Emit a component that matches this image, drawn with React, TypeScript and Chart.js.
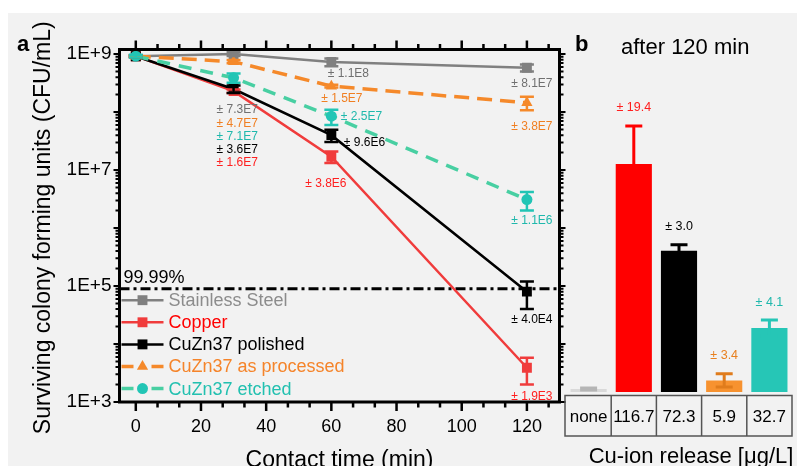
import React, { useEffect, useRef } from 'react';
import { Chart, registerables } from 'chart.js';

Chart.register(...registerables);

const FONT = '"Liberation Sans", Arial, Helvetica, sans-serif';

// ---------- panel a : survival curves ----------
const contactTimes = [0, 30, 60, 120];
const seriesNames = ['Stainless Steel', 'Copper', 'CuZn37 polished', 'CuZn37 as processed', 'CuZn37 etched'];
const stainlessSteel = [9.2e8, 1.0e9, 7.3e8, 5.8e8];
const stainlessSteelErr = [3e7, 7.3e7, 1.1e8, 8.1e7];
const copper = [9.2e8, 2.3e8, 1.7e7, 3.9e3];
const copperErr = [3e7, 1.6e7, 3.8e6, 1.9e3];
const polished = [9.2e8, 2.5e8, 4.0e7, 8.0e4];
const polishedErr = [3e7, 3.6e7, 9.6e6, 4.0e4];
const asProcessed = [9.2e8, 7.4e8, 2.8e8, 1.45e8];
const asProcessedErr = [3e7, 4.7e7, 1.5e7, 3.8e7];
const etched = [9.2e8, 3.9e8, 8.5e7, 3.1e6];
const etchedErr = [5e7, 7.1e7, 2.5e7, 1.1e6];
const thresholdValue = 9e4;
const thresholdLabel = '99.99%';
const xTickValues = [0, 20, 40, 60, 80, 100, 120];
const yTickValues = [1e3, 1e5, 1e7, 1e9];
const xTitle = 'Contact time (min)';
const yTitle = 'Surviving colony forming units (CFU/mL)';

// ---------- panel b : Cu-ion release ----------
const releaseLabels = ['none', '116.7', '72.3', '5.9', '32.7'];
const releaseValues = [1.5, 116.7, 72.3, 5.9, 32.7];
const releaseErr = [0.5, 19.4, 3.0, 3.4, 4.1];
const releaseTitle = 'Cu-ion release [μg/L]';
const panelBTitle = 'after 120 min';

// ---------- styles ----------
const seriesValues = [stainlessSteel, copper, polished, asProcessed, etched];
const seriesErrs = [stainlessSteelErr, copperErr, polishedErr, asProcessedErr, etchedErr];
const lineColors = ['#808080', '#f03c3c', '#000000', '#f5892a', '#48cfa2'];
const markerColors = ['#808080', '#f03c3c', '#000000', '#f5892a', '#22c5b5'];
const textColors = ['#8c8c8c', '#ff0000', '#000000', '#f5842a', '#22c0b0'];
const labelColors = ['#707070', '#ff2020', '#000000', '#f07f22', '#1fb8ac'];
const lineDashes = [[], [], [], [15, 8], [13, 9]];
const lineWidths = [2.5, 2.5, 2.5, 3.5, 3.5];
const pointStyles = ['rect', 'rect', 'rect', 'triangle', 'circle'];
const pointRadii = [7, 7, 7, 6.5, 5.5];
const drawOrder = [4, 3, 2, 1, 0];
// label offsets [dx, dy, align] relative to each point (null = no label)
const errLabelLayout: any[][] = [
  [null, [-17, 56, 'left'], [17, 12, 'center'], [5, 15.5, 'center']],
  [null, [-17, 72, 'left'], [-5.5, 27, 'center'], [5, 28.5, 'center']],
  [null, [-17, 61, 'left'], [12.5, 8, 'left'], [5, 28, 'center']],
  [null, [-17, 62, 'left'], [10.5, 13, 'center'], [5, 23.5, 'center']],
  [null, [-17, 59, 'left'], [9.5, 1, 'left'], [5, 21.5, 'center']],
];

const barColors = ['#d9d9d9', '#ff0000', '#000000', '#f7922f', '#26c6b6'];
const barErrColors = ['#b5b5b5', '#ff0000', '#000000', '#e07c1c', '#26c6b6'];
const barLabelColors = [null, '#ff2020', '#000000', '#e8801f', '#1fb8ac'];

function fmtErr(v: number) {
  const e = Math.floor(Math.log10(v) + 1e-9);
  const m = v / Math.pow(10, e);
  return '± ' + m.toFixed(1) + 'E' + e;
}

function drawMarker(ctx: CanvasRenderingContext2D, style: string, x: number, y: number, r: number, color: string) {
  ctx.save();
  ctx.fillStyle = color;
  ctx.beginPath();
  if (style === 'rect') {
    const s = Math.SQRT1_2 * r;
    ctx.rect(x - s, y - s, 2 * s, 2 * s);
  } else if (style === 'triangle') {
    let a = 0;
    ctx.moveTo(x + Math.sin(a) * r, y - Math.cos(a) * r);
    a += (2 * Math.PI) / 3;
    ctx.lineTo(x + Math.sin(a) * r, y - Math.cos(a) * r);
    a += (2 * Math.PI) / 3;
    ctx.lineTo(x + Math.sin(a) * r, y - Math.cos(a) * r);
    ctx.closePath();
  } else {
    ctx.arc(x, y, r, 0, Math.PI * 2);
  }
  ctx.fill();
  ctx.restore();
}

const panelAPlugin = {
  id: 'panelA',
  beforeDatasetsDraw(chart: any) {
    const { ctx, chartArea: ca, scales } = chart;
    const yy = scales.y.getPixelForValue(thresholdValue);
    ctx.save();
    ctx.beginPath();
    ctx.setLineDash([10, 4, 3, 4]);
    ctx.lineWidth = 3;
    ctx.strokeStyle = '#000';
    ctx.moveTo(ca.left, yy);
    ctx.lineTo(ca.right, yy);
    ctx.stroke();
    ctx.setLineDash([]);
    ctx.fillStyle = '#000';
    ctx.font = `18px ${FONT}`;
    ctx.textAlign = 'left';
    ctx.textBaseline = 'alphabetic';
    ctx.fillText(thresholdLabel, ca.left + 4, yy - 6);
    ctx.restore();
  },
  afterDatasetsDraw(chart: any) {
    const { ctx, scales } = chart;
    const y = scales.y;
    ctx.save();
    for (let i = 0; i < seriesValues.length; i++) {
      const meta = chart.getDatasetMeta(i);
      for (let j = 0; j < contactTimes.length; j++) {
        const pt = meta.data[j];
        const v = seriesValues[i][j];
        const e = seriesErrs[i][j];
        const yt = y.getPixelForValue(v + e);
        const yb = y.getPixelForValue(Math.max(v - e, 1));
        ctx.strokeStyle = markerColors[i];
        ctx.lineWidth = 2.5;
        ctx.setLineDash([]);
        ctx.beginPath();
        ctx.moveTo(pt.x, yt);
        ctx.lineTo(pt.x, yb);
        ctx.moveTo(pt.x - 7, yt);
        ctx.lineTo(pt.x + 7, yt);
        ctx.moveTo(pt.x - 7, yb);
        ctx.lineTo(pt.x + 7, yb);
        ctx.stroke();
        const lay = errLabelLayout[i][j];
        if (lay) {
          ctx.fillStyle = labelColors[i];
          ctx.font = `12px ${FONT}`;
          ctx.textAlign = lay[2];
          ctx.textBaseline = 'middle';
          ctx.fillText(fmtErr(e), pt.x + lay[0], pt.y + lay[1]);
        }
      }
    }
    ctx.restore();
  },
  afterDraw(chart: any) {
    const { ctx, chartArea: ca, scales } = chart;
    const x = scales.x;
    const y = scales.y;
    ctx.save();
    ctx.setLineDash([]);
    ctx.strokeStyle = '#000';
    // ticks x (major every 20, 2 minor between)
    ctx.lineWidth = 2.5;
    ctx.beginPath();
    for (let k = 0; ; k++) {
      const v = (k * 20) / 3;
      if (v > x.max) break;
      const px = x.getPixelForValue(v);
      const len = k % 3 === 0 ? 9 : 5.5;
      ctx.moveTo(px, ca.bottom);
      ctx.lineTo(px, ca.bottom + len);
      ctx.moveTo(px, ca.top);
      ctx.lineTo(px, ca.top - len);
    }
    ctx.stroke();
    // ticks y (log)
    ctx.lineWidth = 2;
    ctx.beginPath();
    for (let d = 3; d <= 9; d++) {
      for (let m = 1; m <= 9; m++) {
        const v = m * Math.pow(10, d);
        if (v > y.max) break;
        const py = y.getPixelForValue(v);
        const len = m === 1 ? 6 : 4;
        ctx.moveTo(ca.left, py);
        ctx.lineTo(ca.left - len, py);
        ctx.moveTo(ca.right, py);
        ctx.lineTo(ca.right + len, py);
      }
    }
    ctx.stroke();
    // frame
    ctx.lineWidth = 3;
    ctx.strokeRect(ca.left, ca.top, ca.right - ca.left, ca.bottom - ca.top);

    // legend
    const lx0 = ca.left + 2;
    const lx1 = ca.left + 44;
    const ly0 = y.getPixelForValue(thresholdValue) + 11.5;
    for (let i = 0; i < seriesNames.length; i++) {
      const ly = ly0 + i * 22.1;
      const cx = (lx0 + lx1) / 2;
      ctx.strokeStyle = lineColors[i];
      ctx.lineWidth = lineWidths[i];
      ctx.beginPath();
      if (lineDashes[i].length) {
        ctx.moveTo(lx0, ly);
        ctx.lineTo(cx - 9, ly);
        ctx.moveTo(cx + 9, ly);
        ctx.lineTo(lx1, ly);
      } else {
        ctx.moveTo(lx0, ly);
        ctx.lineTo(lx1, ly);
      }
      ctx.stroke();
      drawMarker(ctx, pointStyles[i], cx, ly, pointRadii[i], markerColors[i]);
      ctx.fillStyle = textColors[i];
      ctx.font = `18px ${FONT}`;
      ctx.textAlign = 'left';
      ctx.textBaseline = 'middle';
      ctx.fillText(seriesNames[i], lx1 + 5, ly + 1);
    }

    // titles
    ctx.fillStyle = '#000';
    ctx.font = `23px ${FONT}`;
    ctx.textAlign = 'center';
    ctx.textBaseline = 'alphabetic';
    ctx.fillText(xTitle, (ca.left + ca.right) / 2, 453.5);
    ctx.save();
    ctx.translate(42, (ca.top + ca.bottom) / 2 + 2);
    ctx.rotate(-Math.PI / 2);
    ctx.fillText(yTitle, 0, 0);
    ctx.restore();
    ctx.font = `bold 22px ${FONT}`;
    ctx.textAlign = 'left';
    ctx.fillText('a', 9, 38);
    ctx.restore();
  },
};

const panelBPlugin = {
  id: 'panelB',
  afterDatasetsDraw(chart: any) {
    const { ctx, scales } = chart;
    const meta = chart.getDatasetMeta(0);
    const y = scales.y;
    ctx.save();
    for (let i = 0; i < releaseValues.length; i++) {
      const bar = meta.data[i];
      const v = releaseValues[i];
      const e = releaseErr[i];
      const yt = y.getPixelForValue(v + e);
      const yb = y.getPixelForValue(Math.max(v - e, 0));
      ctx.strokeStyle = barErrColors[i];
      ctx.lineWidth = 3;
      ctx.beginPath();
      ctx.moveTo(bar.x, yt);
      ctx.lineTo(bar.x, yb);
      ctx.moveTo(bar.x - 8.5, yt);
      ctx.lineTo(bar.x + 8.5, yt);
      ctx.moveTo(bar.x - 8.5, yb);
      ctx.lineTo(bar.x + 8.5, yb);
      ctx.stroke();
      const lc = barLabelColors[i];
      if (lc) {
        ctx.fillStyle = lc;
        ctx.font = `12.5px ${FONT}`;
        ctx.textAlign = 'center';
        ctx.textBaseline = 'middle';
        ctx.fillText('± ' + e.toFixed(1), bar.x, yt - 18);
      }
    }
    ctx.restore();
  },
  afterDraw(chart: any) {
    const { ctx, chartArea: ca, scales } = chart;
    const x = scales.x;
    const w = (ca.right - ca.left) / releaseLabels.length;
    const top = ca.bottom + 3.5;
    const bottom = ca.bottom + 44;
    ctx.save();
    ctx.strokeStyle = '#555';
    ctx.lineWidth = 1.5;
    ctx.beginPath();
    ctx.rect(ca.left - 1, top, ca.right - ca.left + 1, bottom - top);
    for (let i = 1; i < releaseLabels.length; i++) {
      const px = x.getPixelForValue(i) - w / 2;
      ctx.moveTo(px, top);
      ctx.lineTo(px, bottom);
    }
    ctx.stroke();
    ctx.fillStyle = '#000';
    ctx.font = `17px ${FONT}`;
    ctx.textAlign = 'center';
    ctx.textBaseline = 'middle';
    for (let i = 0; i < releaseLabels.length; i++) {
      ctx.fillText(releaseLabels[i], x.getPixelForValue(i), (top + bottom) / 2 + 2);
    }
    ctx.font = `22px ${FONT}`;
    ctx.textBaseline = 'alphabetic';
    ctx.fillText(releaseTitle, 129, 450);
    ctx.textAlign = 'left';
    ctx.font = `22px ${FONT}`;
    ctx.fillText(panelBTitle, 59, 41);
    ctx.font = `bold 22px ${FONT}`;
    ctx.fillText('b', 13, 38);
    ctx.restore();
  },
};

export default function App() {
  const refA = useRef<HTMLCanvasElement>(null);
  const refB = useRef<HTMLCanvasElement>(null);

  useEffect(() => {
    const chartA = new Chart(refA.current as HTMLCanvasElement, {
      type: 'line',
      data: {
        datasets: seriesNames.map((name, i) => ({
          label: name,
          data: contactTimes.map((t, j) => ({ x: t, y: seriesValues[i][j] })),
          borderColor: lineColors[i],
          backgroundColor: markerColors[i],
          borderWidth: lineWidths[i],
          borderDash: lineDashes[i],
          pointStyle: pointStyles[i] as any,
          pointRadius: pointRadii[i],
          pointBackgroundColor: markerColors[i],
          pointBorderWidth: 0,
          tension: 0,
          fill: false,
          order: drawOrder[i],
        })),
      },
      options: {
        animation: false,
        responsive: false,
        events: [],
        layout: { padding: { left: 0, right: 8.5, top: 36.5, bottom: 0 } },
        plugins: { legend: { display: false }, tooltip: { enabled: false } },
        scales: {
          x: {
            type: 'linear',
            min: -5,
            max: 130,
            grid: { display: false, drawTicks: false },
            border: { display: false },
            afterBuildTicks: (s: any) => {
              s.ticks = xTickValues.map((v) => ({ value: v }));
            },
            afterFit: (s: any) => {
              s.height = 64;
            },
            ticks: { color: '#000', font: { family: FONT, size: 18 }, padding: 14, maxRotation: 0, autoSkip: false },
          },
          y: {
            type: 'logarithmic',
            min: 1e3,
            max: 1.2e9,
            grid: { display: false, drawTicks: false },
            border: { display: false },
            afterBuildTicks: (s: any) => {
              s.ticks = yTickValues.map((v) => ({ value: v }));
            },
            afterFit: (s: any) => {
              s.width = 111.5;
            },
            ticks: {
              color: '#000',
              font: { family: FONT, size: 19 },
              padding: 8,
              autoSkip: false,
              callback: (v: any) => '1E+' + Math.round(Math.log10(Number(v))),
            },
          },
        },
      },
      plugins: [panelAPlugin],
    });

    const chartB = new Chart(refB.current as HTMLCanvasElement, {
      type: 'bar',
      data: {
        labels: releaseLabels,
        datasets: [
          {
            data: releaseValues,
            backgroundColor: barColors,
            borderWidth: 0,
            barPercentage: 0.8,
            categoryPercentage: 1,
          },
        ],
      },
      options: {
        animation: false,
        responsive: false,
        events: [],
        layout: { padding: { left: 4, right: 5, top: 37, bottom: 74 } },
        plugins: { legend: { display: false }, tooltip: { enabled: false } },
        scales: {
          x: { display: false },
          y: { display: false, min: 0, max: 175 },
        },
      },
      plugins: [panelBPlugin],
    });

    return () => {
      chartA.destroy();
      chartB.destroy();
    };
  }, []);

  return (
    <div
      style={{
        position: 'fixed',
        left: 8,
        top: 13,
        right: 0,
        bottom: 0,
        background: '#f2f2f2',
        overflow: 'hidden',
      }}
    >
      <canvas ref={refA} width={560} height={453} style={{ position: 'absolute', left: 0, top: 0 }} />
      <canvas ref={refB} width={235} height={453} style={{ position: 'absolute', left: 554, top: 0 }} />
    </div>
  );
}
